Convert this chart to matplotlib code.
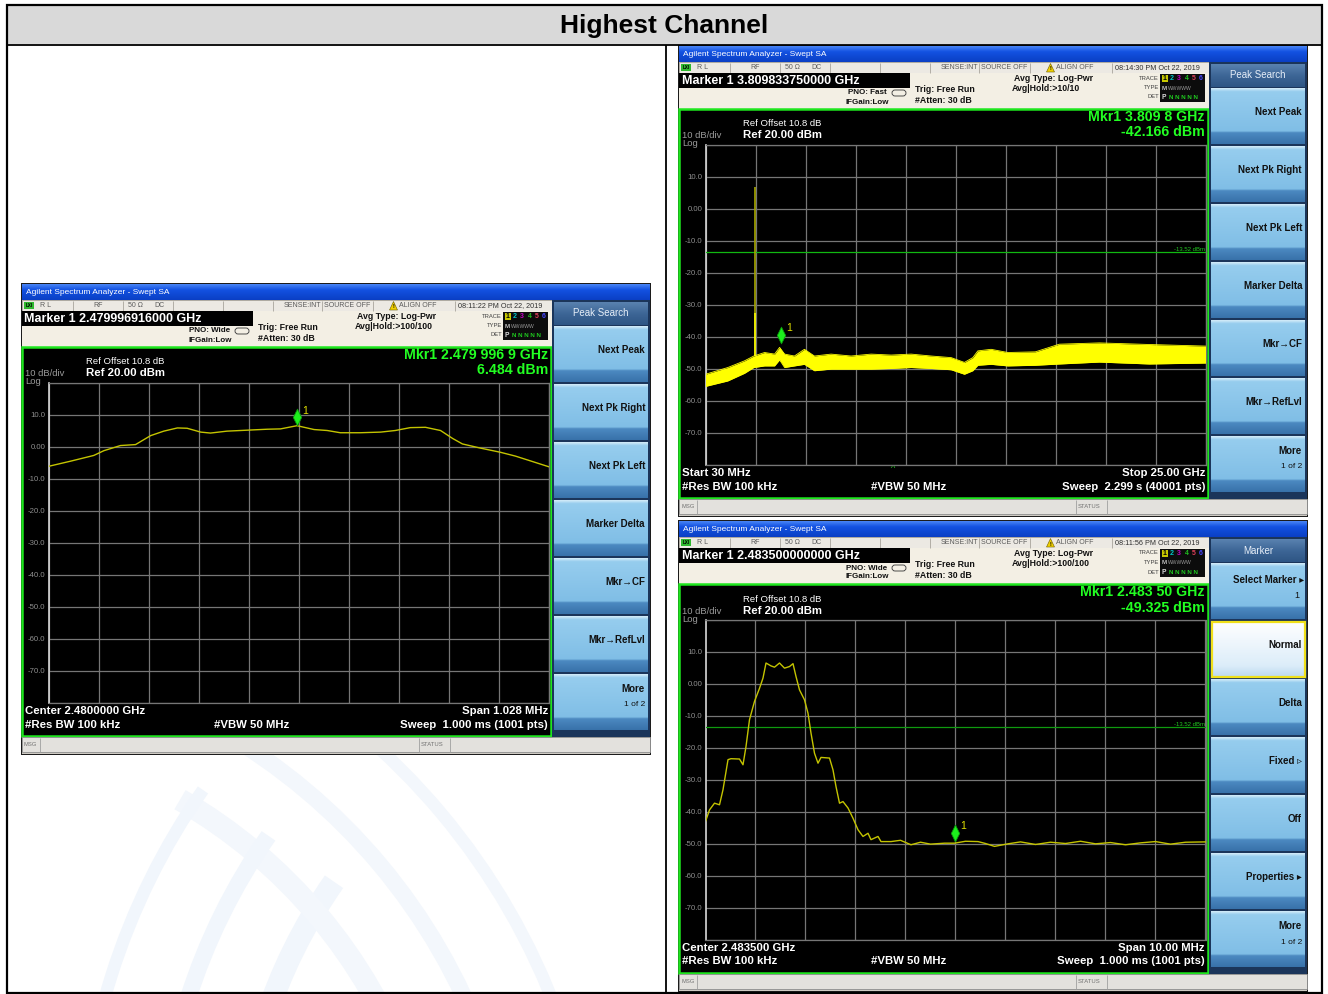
import numpy as np
import matplotlib
matplotlib.use("Agg")
import matplotlib.pyplot as plt
from matplotlib.patches import Rectangle, Polygon, Arc, FancyBboxPatch
from matplotlib.path import Path
from matplotlib.colors import LinearSegmentedColormap
from matplotlib.transforms import offset_copy

plt.rcParams['font.family'] = ['Liberation Sans', 'DejaVu Sans']

W, H, DPI = 1328, 994, 100

TITLE = "Highest Channel"

# ---------------- data ----------------
# Panel 1 (left): in-band spectrum, center 2.48 GHz, span 1.028 MHz
p1_freq_mhz = [2479.486, 2479.531, 2479.579, 2479.600, 2479.634, 2479.665, 2479.696, 2479.723,
               2479.751, 2479.771, 2479.799, 2479.819, 2479.853, 2479.881, 2479.908, 2479.936,
               2479.963, 2479.997, 2480.032, 2480.059, 2480.086, 2480.127, 2480.169, 2480.199,
               2480.230, 2480.261, 2480.292, 2480.317, 2480.337, 2480.374, 2480.415, 2480.446,
               2480.477, 2480.514]
p1_level_dbm = [-6.2, -4.6, -2.8, -1.3, 0.3, 0.6, 3.4, 4.8, 5.8, 5.7, 4.5, 4.2, 4.8, 5.0, 5.2, 5.4,
                5.5, 6.5, 5.3, 5.0, 4.3, 4.3, 4.5, 5.0, 5.9, 6.0, 5.0, 2.5, 0.8, -0.5, -1.8, -3.0,
                -4.5, -6.3]
p1_marker = (2479.9969, 6.484)

# Panel 2 (top right): conducted spurious 30 MHz - 25 GHz (noise band envelope)
p2_freq_ghz = [0.03, 1.14, 1.98, 2.44, 2.98, 3.48, 3.73, 3.98, 4.47, 4.97, 5.47, 6.30, 7.30, 8.30,
               9.30, 10.30, 11.30, 12.30, 12.96, 13.38, 13.63, 14.29, 15.13, 16.5, 17.7, 19.7, 22.2, 25.0]
p2_upper_dbm = [-51.8, -49.7, -47.6, -46.1, -45.0, -45.5, -43.4, -45.5, -46.1, -44.0, -46.1, -45.5,
                -46.1, -45.5, -45.8, -45.5, -46.1, -46.6, -48.1, -46.6, -44.5, -44.0, -45.0, -44.8,
                -42.4, -42.0, -42.5, -43.0]
p2_lower_dbm = [-55.6, -53.9, -51.5, -49.7, -49.2, -49.2, -47.3, -49.7, -49.2, -48.7, -50.7, -50.2,
                -50.2, -50.2, -50.0, -49.7, -50.0, -50.4, -51.8, -50.7, -49.0, -48.7, -49.2, -49.0,
                -48.6, -48.0, -48.6, -48.3]
p2_spike_ghz = 2.48
p2_spike_top_dbm = 6.6
p2_spike_mid_dbm = -32.5
p2_marker = (3.8098, -42.166)

# Panel 3 (bottom right): band edge, center 2.4835 GHz, span 10 MHz
p3_freq_mhz = [2478.50, 2478.58, 2478.68, 2478.78, 2478.85, 2478.95, 2479.01, 2479.18, 2479.25, 2479.31,
               2479.38, 2479.48, 2479.58, 2479.65, 2479.71, 2479.81, 2479.88, 2479.98, 2480.08, 2480.18,
               2480.25, 2480.31, 2480.38, 2480.48, 2480.55, 2480.61, 2480.68, 2480.75, 2480.81, 2480.98,
               2481.05, 2481.11, 2481.18, 2481.25, 2481.35, 2481.45, 2481.55, 2481.65, 2481.75, 2481.81,
               2481.95, 2482.01, 2482.21, 2482.40, 2482.61, 2482.80, 2483.00, 2483.28, 2483.48, 2483.70,
               2483.95, 2484.10, 2484.28, 2484.55, 2484.80, 2485.10, 2485.40, 2485.70, 2486.00, 2486.30,
               2486.60, 2486.90, 2487.20, 2487.50, 2487.80, 2488.10, 2488.50]
p3_level_dbm = [-43.1, -39.5, -37.4, -37.9, -33.2, -23.8, -23.5, -23.6, -25.4, -19.7,
                -11.3, -5.6, -1.5, 1.7, 6.4, 5.5, 5.1, 6.4, 4.8, 5.3,
                6.2, 2.2, -2.0, -5.1, -9.3, -15.5, -21.8, -24.9, -23.1, -23.3,
                -27.0, -32.2, -37.4, -36.9, -38.9, -42.1, -45.7, -47.8, -46.8, -48.8,
                -47.8, -49.4, -49.4, -49.0, -50.4, -49.6, -50.2, -49.9, -49.9, -49.3,
                -49.4, -50.0, -50.9, -50.1, -49.5, -50.3, -49.6, -50.0, -49.3, -50.1,
                -49.7, -50.4, -49.8, -49.4, -50.2, -49.6, -49.5]
p3_marker = (2483.5, -49.325)

display_line_dbm = -13.52
ref_level_dbm = 20
bottom_level_dbm = -80
y_tick_levels = [20, 10, 0, -10, -20, -30, -40, -50, -60, -70, -80]
y_tick_labels = ["", "10.0", "0.00", "-10.0", "-20.0", "-30.0", "-40.0", "-50.0", "-60.0", "-70.0", ""]

peak_keys = ["Next Peak", "Next Pk Right", "Next Pk Left", "Marker Delta", "Mkr\u2192CF",
             "Mkr\u2192RefLvl", "More|1 of 2"]
marker_keys = ["Select Marker \u25b8|1", "Normal", "Delta", "Fixed \u25b9", "Off", "Properties \u25b8",
               "More|1 of 2"]

# ---------------- figure ----------------
fig = plt.figure(figsize=(W / DPI, H / DPI), dpi=DPI)
fig.patch.set_facecolor('white')
base = fig.add_axes([0, 0, 1, 1])
base.set_xlim(0, W)
base.set_ylim(H, 0)
base.axis('off')


def frac(x, y, w, h):
    return [x / W, 1 - (y + h) / H, w / W, h / H]


def rect(x, y, w, h, fc='none', ec='none', lw=0, z=1):
    base.add_patch(Rectangle((x, y), w, h, facecolor=fc, edgecolor=ec, linewidth=lw, zorder=z))


def line(xs, ys, color, lw, z=3):
    base.plot(xs, ys, color=color, lw=lw, zorder=z, solid_capstyle='butt')


def txt(x, y, s, size, color='black', weight='normal', ha='left', va='center', z=6):
    base.text(x, y, s, fontsize=size, color=color, fontweight=weight, ha=ha, va=va, zorder=z)


def grad(x, y, w, h, colors, stops, z=1):
    cmap = LinearSegmentedColormap.from_list('g', list(zip(stops, colors)))
    arr = np.linspace(0, 1, 128).reshape(-1, 1)
    base.imshow(arr, cmap=cmap, extent=(x, x + w, y + h, y), aspect='auto', zorder=z,
                interpolation='bilinear')


# watermark (pale swooshes)
for r, lw in [(520, 16), (600, 12), (680, 9)]:
    base.add_patch(Arc((760, 1180), 2 * r, 2 * r, theta1=180, theta2=215, color='#f1f6fc',
                       lw=lw, zorder=0.5))
    base.add_patch(Arc((-80, 1250), 2 * r, 2 * r, theta1=300, theta2=340, color='#f3f7fc',
                       lw=lw, zorder=0.5))

# table
rect(7, 5, 1314, 39, fc='#d9d9d9', z=0.8)
rect(6.5, 4.5, 1315, 988.5, ec='black', lw=1.6, z=8)
line([6.5, 1321.5], [44.5, 44.5], 'black', 1.3, z=8)
line([665.5, 665.5], [44.5, 993], 'black', 1.3, z=8)
txt(664, 26, TITLE, 19, 'black', 'bold', ha='center')

DIAMOND = Path([(0, 1), (0.5, 0), (0, -1), (-0.5, 0), (0, 1)], [1, 2, 2, 2, 79])


def softkeys(ox, oy, header, keys, selected=None):
    rect(ox + 531, oy + 17, 98, 437, fc='#1b355a', z=2)
    grad(ox + 533, oy + 19, 94, 23, ['#5a82b0', '#3d6696', '#2e5584'], [0, 0.5, 1], z=3)
    txt(ox + 580, oy + 30.5, header, 7, '#e6eef8', ha='center')
    for i, key in enumerate(keys):
        top = oy + 43 + 58 * i
        if i == selected:
            grad(ox + 533, top, 94, 56, ['#ffffff', '#f2f8fd', '#dcedf9', '#bcd9ef'],
                 [0, 0.3, 0.8, 1], z=3)
            rect(ox + 533.5, top + 0.5, 93, 55, ec='#f0e01a', lw=1.6, z=4)
        else:
            grad(ox + 533, top, 94, 56, ['#d4ecf9', '#96cdee', '#80bee6', '#4c89c1', '#3872aa'],
                 [0, 0.06, 0.77, 0.8, 1], z=3)
        parts = key.split('|')
        if len(parts) == 1:
            txt(ox + 624, top + 24, parts[0], 7, '#111111', 'bold', ha='right')
        elif parts[0] == 'More':
            txt(ox + 624, top + 15, 'More', 7, '#111111', 'bold', ha='right')
            txt(ox + 624, top + 31, parts[1], 6, '#111111', ha='right')
        else:
            txt(ox + 626, top + 17, parts[0], 7, '#111111', 'bold', ha='right')
            txt(ox + 621, top + 32, parts[1], 6.5, '#111111', ha='right')


def draw_screen(ox, oy, cfg):
    # frame and body
    rect(ox, oy, 630, 472, fc='#1c1c1c', z=1)
    rect(ox + 1, oy + 1, 628, 470, fc='#cfcbc4', z=1.1)
    grad(ox + 1, oy + 1, 628, 16, ['#4a86f6', '#1352e2', '#0a3fc4'], [0, 0.35, 1], z=1.2)
    txt(ox + 5, oy + 9.5, "Agilent Spectrum Analyzer - Swept SA", 6, 'white')

    # status row
    rect(ox + 1, oy + 17, 530, 11, fc='#ece9e3', ec='#9a968e', lw=0.5, z=2)
    for d in [52, 102, 152, 202, 252, 301, 352, 434]:
        line([ox + d, ox + d], [oy + 17.5, oy + 27.5], '#a8a49c', 0.6)
    rect(ox + 3, oy + 19, 10, 7, fc='#2fb82f', z=3)
    txt(ox + 8, oy + 22.6, 'LXI', 3.3, 'black', 'bold', ha='center')
    sc = '#5a5a5a'
    txt(ox + 19, oy + 22.5, 'R L', 5, sc)
    txt(ox + 77, oy + 22.5, 'RF', 5, sc, ha='center')
    txt(ox + 114, oy + 22.5, '50 \u03a9', 5, sc, ha='center')
    txt(ox + 138, oy + 22.5, 'DC', 5, sc, ha='center')
    txt(ox + 300, oy + 22.5, 'SENSE:INT', 5, sc, ha='right')
    txt(ox + 303, oy + 22.5, 'SOURCE OFF', 5, sc)
    base.add_patch(Polygon([(ox + 368.5, oy + 27), (ox + 376.5, oy + 27), (ox + 372.5, oy + 18.5)],
                           closed=True, facecolor='#f0d000', edgecolor='#6a5a00', lw=0.4, zorder=4))
    txt(ox + 372.5, oy + 24, '!', 4, 'black', 'bold', ha='center')
    txt(ox + 378, oy + 22.5, 'ALIGN OFF', 5, sc)
    txt(ox + 437, oy + 22.5, cfg['clock'], 5.2, '#303030')

    # marker row
    rect(ox + 1, oy + 28, 530, 36, fc='#f3efe4', z=2)
    rect(ox + 1, oy + 28, 231, 15, fc='black', z=3)
    txt(ox + 3.5, oy + 35.8, cfg['marker_hdr'], 9, 'white', 'bold')
    txt(ox + 209, oy + 48, cfg['pno'], 5.8, '#111111', 'bold', ha='right')
    txt(ox + 211, oy + 57, 'IFGain:Low', 5.8, '#111111', 'bold', ha='right')
    base.add_patch(FancyBboxPatch((ox + 214, oy + 45), 14, 6, boxstyle='round,pad=0,rounding_size=3',
                                  facecolor='none', edgecolor='#333333', lw=0.6, zorder=4))
    txt(ox + 237, oy + 44.5, 'Trig: Free Run', 6.3, '#111111', 'bold')
    txt(ox + 237, oy + 55.5, '#Atten: 30 dB', 6.3, '#111111', 'bold')
    txt(ox + 336, oy + 33.5, 'Avg Type: Log-Pwr', 6.3, '#111111', 'bold')
    txt(ox + 334, oy + 43.5, cfg['avg_hold'], 6.3, '#111111', 'bold')
    for lbl, yy in [('TRACE', 33), ('TYPE', 42.5), ('DET', 52)]:
        txt(ox + 481, oy + yy, lbl, 4.2, '#404040', ha='right')
    rect(ox + 482, oy + 29, 45, 28, fc='#0c0c0c', z=3)
    rect(ox + 483.5, oy + 29.8, 6.5, 7.2, fc='#c8c800', z=4)
    for k, col in enumerate(['black', '#00c8c8', '#c000c0', '#20c020', '#e0405a', '#4646ff']):
        txt(ox + 486.8 + 7.2 * k, oy + 33.5, str(k + 1), 5, col, 'bold', ha='center')
    txt(ox + 483.5, oy + 43, 'M', 4.6, '#bdbdbd', 'bold')
    txt(ox + 490, oy + 43, 'WWWWW', 3.6, '#9a9a9a')
    txt(ox + 483.5, oy + 52.5, 'P', 4.8, '#dddddd', 'bold')
    txt(ox + 491, oy + 52.5, 'N N N N N', 4.4, '#20d020', 'bold')

    # display
    rect(ox + 1, oy + 64, 529, 388.5, fc='black', ec='#1ee61e', lw=1.8, z=2)
    txt(ox + 65, oy + 79, 'Ref Offset 10.8 dB', 6.8, 'white')
    txt(ox + 65, oy + 90.5, 'Ref 20.00 dBm', 8.2, 'white', 'bold')
    txt(ox + 4, oy + 91, '10 dB/div', 6.8, '#9a9a9a')
    txt(ox + 4, oy + 99, 'Log', 6.8, '#9a9a9a')
    txt(ox + 527, oy + 72, cfg['mkr_f'], 10.2, '#22ff22', 'bold', ha='right')
    txt(ox + 527, oy + 87.5, cfg['mkr_l'], 10.2, '#22ff22', 'bold', ha='right')
    txt(ox + 4, oy + 428, cfg['left_lbl'], 8.2, 'white', 'bold')
    txt(ox + 527, oy + 428, cfg['right_lbl'], 8.2, 'white', 'bold', ha='right')
    txt(ox + 4, oy + 441.5, '#Res BW 100 kHz', 8.2, 'white', 'bold')
    txt(ox + 193, oy + 441.5, '#VBW 50 MHz', 8.2, 'white', 'bold')
    txt(ox + 527, oy + 441.5, cfg['sweep'], 8.2, 'white', 'bold', ha='right')

    # softkeys
    softkeys(ox, oy, cfg['menu'], cfg['keys'], cfg.get('selected'))

    # message bar
    rect(ox + 1, oy + 454, 628, 15, fc='#e3e1dd', ec='#8c8c8c', lw=0.6, z=2)
    txt(ox + 3, oy + 461.5, 'MSG', 4.2, '#707070')
    for d in [19, 398, 429]:
        line([ox + d, ox + d], [oy + 454.5, oy + 468.5], '#a0a0a0', 0.6)
    txt(ox + 400, oy + 461.5, 'STATUS', 4.2, '#707070')

    # graticule axes
    ax = fig.add_axes(frac(ox + 27.5, oy + 99.5, 500, 320))
    ax.set_facecolor('black')
    ax.set_xlim(cfg['xlim'])
    ax.set_ylim(bottom_level_dbm, ref_level_dbm)
    ax.set_xticks(np.linspace(cfg['xlim'][0], cfg['xlim'][1], 11))
    ax.set_xticklabels([])
    ax.set_yticks(y_tick_levels)
    ax.set_yticklabels(y_tick_labels)
    ax.tick_params(axis='both', length=0, pad=2.2, labelsize=5.6, labelcolor='#8e8e8e')
    ax.grid(True, color='#767676', lw=0.9)
    ax.set_axisbelow(True)
    for s in ['top', 'right', 'bottom']:
        ax.spines[s].set_color('#767676')
        ax.spines[s].set_linewidth(0.9)
    ax.spines['left'].set_color('#d8d8d8')
    ax.spines['left'].set_linewidth(1.2)
    return ax


def add_marker(ax, mf, ml):
    tr = offset_copy(ax.transData, fig=fig, x=0, y=8.5, units='dots')
    ax.plot([mf], [ml], marker=DIAMOND, ms=12, mfc='#1cf01c', mec='#0c9c0c', mew=0.6,
            ls='none', transform=tr, clip_on=False, zorder=6)
    tl = offset_copy(ax.transData, fig=fig, x=5, y=15, units='dots')
    ax.text(mf, ml, '1', transform=tl, color='#e0e000', fontsize=7.5, ha='left', va='center',
            zorder=6)


# ---- screen 1 (left) ----
cfg1 = dict(marker_hdr="Marker 1 2.479996916000 GHz", pno="PNO: Wide", avg_hold="Avg|Hold:>100/100",
            clock="08:11:22 PM Oct 22, 2019", mkr_f="Mkr1 2.479 996 9 GHz", mkr_l="6.484 dBm",
            left_lbl="Center 2.4800000 GHz", right_lbl="Span 1.028 MHz",
            sweep="Sweep  1.000 ms (1001 pts)", menu="Peak Search", keys=peak_keys,
            xlim=(p1_freq_mhz[0], p1_freq_mhz[-1]))
ax1 = draw_screen(21, 283, cfg1)
ax1.plot(p1_freq_mhz, p1_level_dbm, color='#c4c400', lw=1.0, zorder=4)
add_marker(ax1, *p1_marker)

# ---- screen 2 (top right) ----
cfg2 = dict(marker_hdr="Marker 1 3.809833750000 GHz", pno="PNO: Fast", avg_hold="Avg|Hold:>10/10",
            clock="08:14:30 PM Oct 22, 2019", mkr_f="Mkr1 3.809 8 GHz", mkr_l="-42.166 dBm",
            left_lbl="Start 30 MHz", right_lbl="Stop 25.00 GHz",
            sweep="Sweep  2.299 s (40001 pts)", menu="Peak Search", keys=peak_keys,
            xlim=(p2_freq_ghz[0], p2_freq_ghz[-1]))
ax2 = draw_screen(678, 45, cfg2)
ax2.axhline(display_line_dbm, color='#11b811', lw=0.9, zorder=3)
ax2.text(p2_freq_ghz[-1], display_line_dbm, '%.2f dBm' % display_line_dbm, color='#22c822',
         fontsize=4.3, ha='right', va='bottom', zorder=5)
ax2.vlines(p2_spike_ghz, p2_spike_mid_dbm, p2_spike_top_dbm, color='#a6a600', lw=1.2, zorder=4)
ax2.vlines(p2_spike_ghz, p2_upper_dbm[3], p2_spike_mid_dbm, color='#ffff00', lw=1.3, zorder=4)
ax2.fill_between(p2_freq_ghz, p2_lower_dbm, p2_upper_dbm, color='#ffff00', lw=0, zorder=4)
ax2.plot(p2_freq_ghz, p2_upper_dbm, color='#ffff00', lw=0.6, zorder=4)
ax2.plot(p2_freq_ghz, p2_lower_dbm, color='#ffff00', lw=0.6, zorder=4)
add_marker(ax2, *p2_marker)
txt(678 + 215, 45 + 423, '^', 6.5, '#22c822', ha='center', z=9)

# ---- screen 3 (bottom right) ----
cfg3 = dict(marker_hdr="Marker 1 2.483500000000 GHz", pno="PNO: Wide", avg_hold="Avg|Hold:>100/100",
            clock="08:11:56 PM Oct 22, 2019", mkr_f="Mkr1 2.483 50 GHz", mkr_l="-49.325 dBm",
            left_lbl="Center 2.483500 GHz", right_lbl="Span 10.00 MHz",
            sweep="Sweep  1.000 ms (1001 pts)", menu="Marker", keys=marker_keys, selected=1,
            xlim=(p3_freq_mhz[0], p3_freq_mhz[-1]))
ax3 = draw_screen(678, 520, cfg3)
ax3.axhline(display_line_dbm, color='#0f9a0f', lw=0.9, zorder=3)
ax3.text(p3_freq_mhz[-1], display_line_dbm, '%.2f dBm' % display_line_dbm, color='#22c822',
         fontsize=4.3, ha='right', va='bottom', zorder=5)
ax3.plot(p3_freq_mhz, p3_level_dbm, color='#c4c400', lw=1.0, zorder=4)
add_marker(ax3, *p3_marker)

base.set_xlim(0, W)
base.set_ylim(H, 0)
fig.savefig('out.png', dpi=DPI, facecolor='white')
